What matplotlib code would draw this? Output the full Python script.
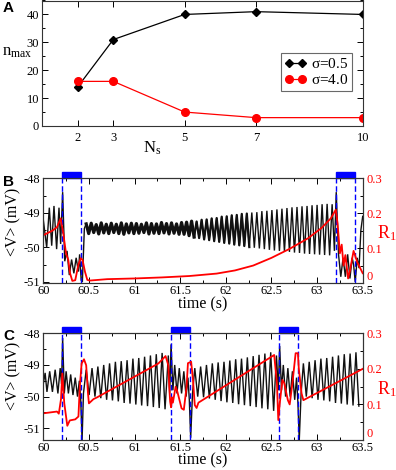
import numpy as np
import matplotlib
matplotlib.use("Agg")
import matplotlib.pyplot as plt
from matplotlib.ticker import MultipleLocator, FixedLocator
from matplotlib.patches import Rectangle
import matplotlib.transforms as mtransforms

plt.rcParams['font.family'] = ['Liberation Serif', 'DejaVu Serif']
plt.rcParams['mathtext.fontset'] = 'custom'
plt.rcParams['mathtext.rm'] = 'Liberation Serif'
plt.rcParams['mathtext.it'] = 'Liberation Serif'

# ---- panel A data
ns = [2, 3, 5, 7, 10]
nmax_s05 = [14, 31, 40, 41, 40]
nmax_s40 = [16, 16, 5, 3, 3]

# ---- panel B: black <V> trace, event parts as vertices
b_pre_t = [60.0, 60.037, 60.066, 60.092, 60.117, 60.146, 60.172, 60.19, 60.212,
           60.235, 60.26, 60.285, 60.31, 60.335, 60.36, 60.385, 60.398, 60.415,
           60.428, 60.45]
b_pre_v = [-49.2, -50.0, -48.85, -49.95, -48.8, -50.05, -48.85, -49.9, -48.4,
           -50.4, -50.1, -50.8, -50.35, -50.75, -50.3, -50.7, -50.2, -50.95,
           -51.0, -49.45]
# regular oscillation between the two stimuli (one peak + one trough per cycle)
b_osc_t0 = 60.47
b_osc_period = 0.055
b_osc_peak = [-49.32, -49.30, -49.34, -49.29, -49.33, -49.30, -49.33, -49.29, -49.32, -49.30,
              -49.31, -49.33, -49.29, -49.31, -49.32, -49.28, -49.31, -49.29, -49.32, -49.28,
              -49.27, -49.24, -49.25, -49.20, -49.19, -49.16, -49.15, -49.11, -49.10, -49.07,
              -49.06, -49.03, -49.02, -48.99, -48.98, -48.95, -48.94, -48.92, -48.90, -48.88,
              -48.86, -48.84, -48.83, -48.81, -48.80, -48.78, -48.77, -48.75, -48.74]
b_osc_trough = [-49.60, -49.57, -49.61, -49.58, -49.60, -49.57, -49.60, -49.62, -49.58, -49.60,
                -49.59, -49.57, -49.61, -49.59, -49.60, -49.58, -49.61, -49.59, -49.62, -49.62,
                -49.66, -49.70, -49.73, -49.77, -49.79, -49.82, -49.84, -49.87, -49.89, -49.92,
                -49.94, -49.96, -49.99, -50.01, -50.03, -50.05, -50.07, -50.09, -50.10, -50.12,
                -50.13, -50.15, -50.16, -50.18, -50.19, -50.20, -50.21, -50.22, -50.23]
b_post_t = [63.165, 63.19, 63.21, 63.235, 63.26, 63.285, 63.31, 63.335, 63.36,
            63.385, 63.40, 63.418, 63.44, 63.46, 63.48, 63.5]
b_post_v = [-48.75, -50.1, -48.4, -50.2, -50.85, -50.3, -50.85, -50.2, -50.9,
            -50.3, -50.5, -51.0, -50.3, -50.6, -49.5, -49.1]
# red R1 trace
b_r1_t = [60.0, 60.1, 60.15, 60.19, 60.219, 60.249, 60.274, 60.293, 60.318, 60.35,
          60.384, 60.41, 60.43, 60.457, 60.482, 60.51, 60.7, 61.0, 61.3, 61.6, 61.9,
          62.1, 62.3, 62.5, 62.7, 62.9, 63.05, 63.15, 63.205, 63.225, 63.25, 63.27,
          63.29, 63.31, 63.34, 63.36, 63.40, 63.44, 63.5]
b_r1_v = [0.137, 0.15, 0.16, 0.185, 0.142, 0.085, 0.066, 0.028, 0.006, 0.008,
          0.052, 0.071, 0.066, 0.032, 0.009, 0.007, 0.011, 0.013, 0.016, 0.02, 0.027,
          0.036, 0.05, 0.072, 0.098, 0.128, 0.158, 0.185, 0.21, 0.17, 0.085, 0.11,
          0.05, 0.08, 0.013, 0.035, 0.092, 0.06, 0.028]
b_stim = [(60.205, 60.415), (63.21, 63.415)]

# ---- panel C
c_osc_period = 0.064
c_pre_t = [60.0, 60.02, 60.04, 60.07, 60.10, 60.13, 60.16, 60.185, 60.2, 60.212,
           60.23, 60.25, 60.275, 60.30, 60.325, 60.35, 60.375, 60.395, 60.41,
           60.425, 60.44]
c_pre_v = [-49.6, -49.25, -49.85, -49.2, -49.85, -49.15, -49.9, -49.1, -49.6, -48.15,
           -49.9, -49.2, -49.9, -49.3, -49.95, -49.4, -50.0, -49.5, -50.1,
           -51.37, -49.9]
c_osc1_t0 = 60.47
c_osc1_peak = [-49.15, -49.10, -49.05, -49.0, -48.95, -48.9, -48.88, -48.85, -48.8, -48.78,
               -48.74, -48.7, -48.66, -48.62]
c_osc1_trough = [-49.95, -50.0, -50.05, -50.1, -50.12, -50.15, -50.2, -50.22, -50.25, -50.28,
                 -50.3, -50.33, -50.36, -50.4]
c_mid1_t = [61.37, 61.385, 61.40, 61.42, 61.44, 61.465, 61.49, 61.515, 61.54,
            61.565, 61.585, 61.60, 61.615, 61.635]
c_mid1_v = [-48.7, -49.9, -48.35, -49.8, -49.0, -49.9, -49.1, -49.9, -49.2,
            -50.0, -49.4, -50.1, -51.3, -49.9]
c_osc2_t0 = 61.66
c_osc2_peak = [-49.1, -49.05, -49.0, -48.95, -48.92, -48.9, -48.86, -48.82, -48.8, -48.76,
               -48.72, -48.68, -48.64, -48.6]
c_osc2_trough = [-50.0, -50.02, -50.06, -50.1, -50.14, -50.18, -50.2, -50.24, -50.27, -50.3,
                 -50.33, -50.37, -50.4, -50.45]
c_mid2_t = [62.555, 62.575, 62.59, 62.61, 62.63, 62.655, 62.68, 62.705, 62.73,
            62.755, 62.775, 62.79, 62.805, 62.825]
c_mid2_v = [-48.7, -49.8, -48.4, -49.8, -49.0, -50.0, -49.1, -50.0, -49.2,
            -50.1, -49.4, -50.2, -51.37, -49.9]
c_osc3_t0 = 62.85
c_osc3_peak = [-48.95, -48.9, -48.85, -48.8, -48.78, -48.74, -48.7, -48.66, -48.64, -48.6]
c_osc3_trough = [-50.0, -50.05, -50.1, -50.12, -50.15, -50.2, -50.22, -50.25, -50.28, -50.3]
c_r1_t = [60.0, 60.15, 60.17, 60.194, 60.208, 60.23, 60.263, 60.29, 60.35, 60.385,
          60.40, 60.42, 60.446, 60.47, 60.49, 60.50, 60.55, 60.59, 61.26, 61.34,
          61.37, 61.38, 61.39, 61.40, 61.41, 61.42, 61.45, 61.47, 61.515, 61.54,
          61.57, 61.585, 61.62, 61.64, 61.66, 61.68, 61.70, 62.53, 62.56, 62.575,
          62.59, 62.62, 62.64, 62.68, 62.70, 62.73, 62.765, 62.79, 62.80, 62.83,
          62.85, 63.5]
c_r1_v = [0.075, 0.08, 0.074, 0.115, 0.187, 0.103, 0.04, 0.055, 0.058, 0.066,
          0.15, 0.215, 0.227, 0.21, 0.13, 0.103, 0.115, 0.12, 0.215, 0.236,
          0.21, 0.15, 0.108, 0.092, 0.12, 0.105, 0.15, 0.135, 0.089, 0.085,
          0.15, 0.216, 0.22, 0.17, 0.098, 0.09, 0.105, 0.239, 0.16, 0.056,
          0.1, 0.169, 0.16, 0.112, 0.1, 0.16, 0.244, 0.244, 0.2, 0.131,
          0.112, 0.2]
c_stim = [(60.205, 60.415), (61.395, 61.605), (62.585, 62.795)]

time_ticks = [60, 60.5, 61, 61.5, 62, 62.5, 63, 63.5]
time_labels = ["60", "60.5", "61", "61.5", "62", "62.5", "63", "63.5"]


def zigzag(t0, period, peaks, troughs):
    t, v = [], []
    for i in range(len(peaks)):
        t += [t0 + i * period, t0 + (i + 0.5) * period]
        v += [peaks[i], troughs[i]]
    return t, v


def style_ax(ax):
    ax.tick_params(which='both', direction='in', top=True, labelsize=9, width=0.7, pad=2)
    ax.tick_params(which='major', length=4)
    ax.tick_params(which='minor', length=2.2)
    for s in ax.spines.values():
        s.set_linewidth(0.8)
        s.set_color('#333333')


W, H = 396, 470
fig = plt.figure(figsize=(W / 100, H / 100), dpi=100)

# ---- panel A
axA = fig.add_axes([42 / W, 1 - 126 / H, (363 - 42) / W, 125.5 / H])
axA.plot(ns, nmax_s05, color='black', lw=0.9, marker='D', ms=4.5, label=r'$\sigma$=0.5')
axA.plot(ns, nmax_s40, color='red', lw=0.9, marker='o', ms=5.5, label=r'$\sigma$=4.0')
axA.set_xlim(1, 10)
axA.set_ylim(0, 45)
axA.xaxis.set_major_locator(FixedLocator(ns))
axA.yaxis.set_major_locator(MultipleLocator(10))
axA.yaxis.set_minor_locator(MultipleLocator(5))
style_ax(axA)
axA.tick_params(which='both', right=True)
axA.tick_params(axis='x', pad=4)
leg = axA.legend(loc='upper left', bbox_to_anchor=((281 - 42) / 321, 1 - 53 / 126),
                 fontsize=11, handlelength=1.4, numpoints=2, frameon=True, fancybox=False,
                 borderpad=0.25, labelspacing=0.15, handletextpad=0.3, borderaxespad=0)
leg.get_frame().set_edgecolor('#444444')
leg.get_frame().set_linewidth(0.8)
fig.text(2 / W, 1 - 52 / H, r'n$_{\rm max}$', fontsize=12, ha='left', va='center')
fig.text(152 / W, 1 - 148 / H, r'N$_{\rm s}$', fontsize=12, ha='center', va='center')
fig.text(3 / W, 1 - 8 / H, 'A', fontsize=11, fontweight='bold', family='Liberation Sans',
         ha='left', va='center')


def trace_panel(rect, t, v, r1_t, r1_v, stim, ylim, bar_h, thick=None):
    ax = fig.add_axes(rect)
    ax.plot(t, v, color='#111111', lw=1.0, solid_joinstyle='miter')
    if thick is not None:
        # the quiet stretch of the trace is a thick noisy band
        for (a, b), lw in thick:
            ax.plot(t[a:b], v[a:b], color='#111111', lw=lw)
    ax.set_xlim(60, 63.5)
    ax.set_ylim(*ylim)
    ax.set_xticks(time_ticks)
    ax.set_xticklabels(time_labels)
    ax.xaxis.set_minor_locator(MultipleLocator(0.25))
    ax.set_yticks([-48, -49, -50, -51])
    ax.set_yticklabels(["-48", "-49", "-50", "-51"])
    ax.yaxis.set_minor_locator(MultipleLocator(0.5))
    style_ax(ax)
    ax.tick_params(axis='x', pad=1.5)
    ax2 = ax.twinx()
    ax2.plot(r1_t, r1_v, color='red', lw=1.3)
    ax2.set_ylim(0, 0.3)
    ax2.set_yticks([0, 0.1, 0.2, 0.3])
    ax2.set_yticklabels(["0", "0.1", "0.2", "0.3"])
    ax2.yaxis.set_minor_locator(MultipleLocator(0.05))
    ax2.tick_params(which='both', direction='in', labelsize=9, labelcolor='red', width=0.7, pad=3)
    ax2.tick_params(which='major', length=4)
    ax2.tick_params(which='minor', length=2.2)
    # lift the bottom "0" a little so it clears the 63.5 label
    ax2.get_yticklabels()[0].set_va('bottom')
    for s in ax2.spines.values():
        s.set_linewidth(0.8)
        s.set_color('#333333')
    trans = mtransforms.blended_transform_factory(ax.transData, ax.transAxes)
    for t_on, t_off in stim:
        for tt in (t_on, t_off):
            ax.plot([tt, tt], [0, 1.0], transform=trans, color='blue', lw=1.0,
                    dashes=(4, 2), clip_on=False)
        ax.add_patch(Rectangle((t_on, 1.0), t_off - t_on, bar_h, transform=trans,
                               color='blue', clip_on=False, zorder=5))
    return ax


zB = zigzag(b_osc_t0, b_osc_period, b_osc_peak, b_osc_trough)
tB = b_pre_t + zB[0] + b_post_t
vB = b_pre_v + zB[1] + b_post_v
n0 = len(b_pre_t)
trace_panel([43.3 / W, 1 - 283 / H, (362.7 - 43.3) / W, (283 - 178.3) / H],
            tB, vB, b_r1_t, b_r1_v, b_stim, (-51.03, -48), 0.06,
            thick=[((n0, n0 + 44), 2.3), ((n0 + 43, n0 + 66), 1.6)])

z1 = zigzag(c_osc1_t0, c_osc_period, c_osc1_peak, c_osc1_trough)
z2 = zigzag(c_osc2_t0, c_osc_period, c_osc2_peak, c_osc2_trough)
z3 = zigzag(c_osc3_t0, c_osc_period, c_osc3_peak, c_osc3_trough)
tC = c_pre_t + z1[0] + c_mid1_t + z2[0] + c_mid2_t + z3[0]
vC = c_pre_v + z1[1] + c_mid1_v + z2[1] + c_mid2_v + z3[1]
trace_panel([43.3 / W, 1 - 440 / H, (362.7 - 43.3) / W, (440 - 333.3) / H],
            tC, vC, c_r1_t, c_r1_v, c_stim, (-51.37, -48), 0.056)

for yc, lab, ylab, yr, ytime in [(222, 'B', 182, 233, 304), (376, 'C', 336, 389, 460)]:
    fig.text(13 / W, 1 - yc / H, '<V> (mV)', fontsize=11.5, rotation=90, ha='center', va='center')
    fig.text(3 / W, 1 - ylab / H, lab, fontsize=11, fontweight='bold', family='Liberation Sans',
             ha='left', va='center')
    fig.text(387 / W, 1 - yr / H, r'R$_1$', fontsize=13, color='red', ha='center', va='center')
    fig.text(203 / W, 1 - ytime / H, 'time (s)', fontsize=11.5, ha='center', va='center')

fig.savefig('out.png', dpi=100)
